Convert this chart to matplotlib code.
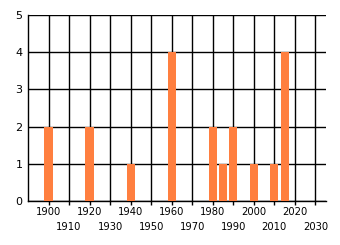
import matplotlib
matplotlib.use("Agg")
import matplotlib.pyplot as plt

years = [1900, 1920, 1940, 1960, 1980, 1985, 1990, 2000, 2010, 2015]
counts = [2, 2, 1, 4, 2, 1, 2, 1, 1, 4]
xticks_upper = [1900, 1920, 1940, 1960, 1980, 2000, 2020]
xticks_lower = [1910, 1930, 1950, 1970, 1990, 2010, 2030]
yticks = [0, 1, 2, 3, 4, 5]

fig = plt.figure(figsize=(3.4, 2.45), dpi=100)
ax = fig.add_axes([28/340, 44/245, (325.7-28)/340, 186/245])
ax.set_axisbelow(True)
ax.bar(years, counts, width=4, color="#FF7F3F", zorder=3)
ax.set_xlim(1890, 2035)
ax.set_ylim(0, 5)
ax.set_xticks(xticks_upper)
ax.set_xticklabels([str(y) for y in xticks_upper], fontsize=7.2)
ax.set_xticks(xticks_lower, minor=True)
ax.set_xticklabels([str(y) for y in xticks_lower], minor=True, fontsize=7.2)
ax.set_yticks(yticks)
ax.set_yticklabels([str(v) for v in yticks], fontsize=8)
ax.grid(True, which="both", axis="x", color="black", linewidth=1.0, zorder=0)
ax.grid(True, which="major", axis="y", color="black", linewidth=1.0, zorder=0)
ax.tick_params(axis="x", which="major", length=3, width=1.0, color="black", pad=1.5)
ax.tick_params(axis="x", which="minor", length=3, width=1.0, color="black", pad=12)
ax.tick_params(axis="y", length=0, pad=4)
for s in ["top", "right"]:
    ax.spines[s].set_visible(False)
for s in ["left", "bottom"]:
    ax.spines[s].set_linewidth(1.0)
fig.savefig("out.png", dpi=100)
